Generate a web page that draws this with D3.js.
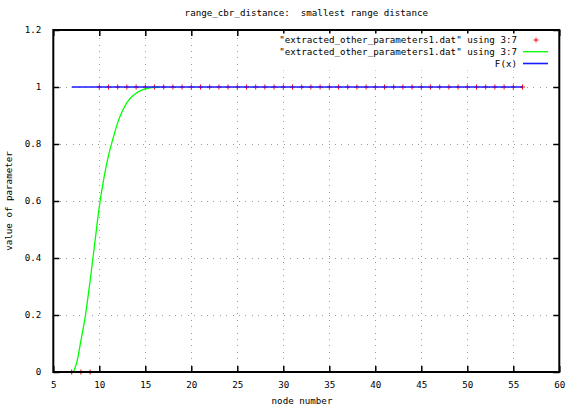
<!DOCTYPE html>
<html>
<head>
<meta charset="utf-8">
<script src="https://cdn.jsdelivr.net/npm/d3@7"></script>
<style>
  html, body { margin: 0; padding: 0; background: #fff; }
  svg { display: block; }
  text { font-family: "DejaVu Sans Mono", "Liberation Mono", monospace; font-size: 9.2px; fill: #000; white-space: pre; }
</style>
</head>
<body>
<svg id="chart" width="566" height="408"></svg>
<script>
// Node numbers and the measured parameter value for each (data file, columns 3:7)
const nodeNumbers = [7, 8, 9, 10, 11, 12, 13, 14, 15, 16, 17, 18, 19, 20, 21, 22, 23, 24, 25, 26,
  27, 28, 29, 30, 31, 32, 33, 34, 35, 36, 37, 38, 39, 40, 41, 42, 43, 44, 45, 46,
  47, 48, 49, 50, 51, 52, 53, 54, 55, 56];
const paramValues = [0, 0, 0, 1, 1, 1, 1, 1, 1, 1, 1, 1, 1, 1, 1, 1, 1, 1, 1, 1,
  1, 1, 1, 1, 1, 1, 1, 1, 1, 1, 1, 1, 1, 1, 1, 1, 1, 1, 1, 1,
  1, 1, 1, 1, 1, 1, 1, 1, 1, 1];

// Smoothed curve through the same data
const smoothX = [7.2, 7.6, 8.0, 8.5, 9.0, 9.5, 10.0, 10.5, 11.0, 11.5, 12.0, 12.5, 13.0, 13.5, 14.0, 14.5, 15.0, 15.5, 16.0, 16.6];
const smoothY = [0, 0.04, 0.11, 0.2, 0.32, 0.45, 0.58, 0.68, 0.76, 0.82, 0.875, 0.915, 0.945, 0.965, 0.978, 0.987, 0.993, 0.997, 0.999, 1.0];

// F(x) reference line
const fxX = [7, 56];
const fxY = [1, 1];

// Axis ticks
const xTicks = [5, 10, 15, 20, 25, 30, 35, 40, 45, 50, 55, 60];
const yTicks = [0, 0.2, 0.4, 0.6, 0.8, 1, 1.2];

const titleText = "range_cbr_distance:  smallest range distance";
const xLabel = "node number";
const yLabel = "value of parameter";
const legendLabels = ["\"extracted_other_parameters1.dat\" using 3:7",
                      "\"extracted_other_parameters1.dat\" using 3:7",
                      "F(x)"];

const svg = d3.select("#chart");
const plotLeft = 53.3, plotRight = 559.3, plotTop = 30, plotBottom = 372;

const x = d3.scaleLinear().domain([5, 60]).range([plotLeft, plotRight]);
const y = d3.scaleLinear().domain([0, 1.2]).range([plotBottom, plotTop]);

// Grid (dotted)
const grid = svg.append("g").attr("stroke", "#9a9a9a").attr("stroke-width", 1)
  .attr("stroke-dasharray", "1,5.4").attr("shape-rendering", "crispEdges");
grid.selectAll("line.v").data(xTicks.slice(1, -1)).join("line")
  .attr("class", "v")
  .attr("x1", d => Math.round(x(d)) + 0.5).attr("x2", d => Math.round(x(d)) + 0.5)
  .attr("y1", plotBottom).attr("y2", plotTop);
grid.selectAll("line.h").data(yTicks.slice(1, -1)).join("line")
  .attr("class", "h")
  .attr("x1", plotLeft).attr("x2", plotRight)
  .attr("y1", d => Math.round(y(d)) + 0.5).attr("y2", d => Math.round(y(d)) + 0.5);

// Axes with inward ticks, mirrored on the opposite sides
const tickLen = 6;
const axB = d3.axisBottom(x).tickValues(xTicks).tickSizeInner(-tickLen).tickSizeOuter(0).tickPadding(9);
const axL = d3.axisLeft(y).tickValues(yTicks).tickSizeInner(-tickLen).tickSizeOuter(0).tickPadding(12)
  .tickFormat(d => d === 0 ? "0" : d3.format("~g")(d));
const axT = d3.axisTop(x).tickValues(xTicks).tickSizeInner(-tickLen).tickSizeOuter(0).tickFormat("");
const axR = d3.axisRight(y).tickValues(yTicks).tickSizeInner(-tickLen).tickSizeOuter(0).tickFormat("");

function styleAxis(g) {
  g.select(".domain").remove();
  g.selectAll(".tick line").attr("stroke", "#000").attr("stroke-width", 1.5);
  g.selectAll(".tick text").attr("fill", "#000");
  g.attr("font-family", null).attr("font-size", null);
}
svg.append("g").attr("transform", `translate(0,${plotBottom})`).call(axB).call(styleAxis);
svg.append("g").attr("transform", `translate(${plotLeft},0)`).call(axL).call(styleAxis);
svg.append("g").attr("transform", `translate(0,${plotTop})`).call(axT).call(styleAxis);
svg.append("g").attr("transform", `translate(${plotRight},0)`).call(axR).call(styleAxis);

// Data points as small "+" marks
const plusR = 2.5;
const pts = svg.append("g").attr("stroke", "#ff0000").attr("stroke-width", 1);
pts.selectAll("path").data(nodeNumbers.map((n, i) => [n, paramValues[i]])).join("path")
  .attr("d", d => {
    const cx = x(d[0]), cy = y(d[1]);
    return `M${cx - plusR},${cy}H${cx + plusR}M${cx},${cy - plusR}V${cy + plusR}`;
  });

// Smoothed curve
const lineGen = d3.line().x(d => x(d[0])).y(d => y(d[1])).curve(d3.curveMonotoneX);
svg.append("path").datum(smoothX.map((v, i) => [v, smoothY[i]]))
  .attr("d", lineGen).attr("fill", "none").attr("stroke", "#00ff00").attr("stroke-width", 1.3);

// F(x)
svg.append("path").datum(fxX.map((v, i) => [v, fxY[i]]))
  .attr("d", d3.line().x(d => x(d[0])).y(d => y(d[1])))
  .attr("fill", "none").attr("stroke", "#1a1aff").attr("stroke-width", 1.6);

// Legend (opaque box)
svg.append("rect").attr("x", 275).attr("y", 33.5).attr("width", 282).attr("height", 37).attr("fill", "#fff");
const legY = [40, 51.7, 63.5];
const textRight = 517, sampleL = 523, sampleR = 548;
legendLabels.forEach((lbl, i) => {
  svg.append("text").attr("x", textRight).attr("y", legY[i]).attr("dy", "0.35em")
    .attr("text-anchor", "end").text(lbl);
});
{
  const cx = (sampleL + sampleR) / 2 + 0.5, cy = legY[0];
  svg.append("path").attr("d", `M${cx - plusR},${cy}H${cx + plusR}M${cx},${cy - plusR}V${cy + plusR}`)
    .attr("stroke", "#ff0000").attr("stroke-width", 1);
}
svg.append("line").attr("x1", sampleL).attr("x2", sampleR).attr("y1", legY[1]).attr("y2", legY[1])
  .attr("stroke", "#00ff00").attr("stroke-width", 1.3);
svg.append("line").attr("x1", sampleL).attr("x2", sampleR).attr("y1", legY[2]).attr("y2", legY[2])
  .attr("stroke", "#1a1aff").attr("stroke-width", 1.6);

// Border
svg.append("rect").attr("x", plotLeft).attr("y", plotTop)
  .attr("width", plotRight - plotLeft).attr("height", plotBottom - plotTop)
  .attr("fill", "none").attr("stroke", "#000").attr("stroke-width", 2);

// Titles
svg.append("text").attr("x", (plotLeft + plotRight) / 2).attr("y", 16).attr("text-anchor", "middle").text(titleText);
svg.append("text").attr("x", 302).attr("y", 404).attr("text-anchor", "middle").text(xLabel);
svg.append("text").attr("transform", `translate(12,${(plotTop + plotBottom) / 2}) rotate(-90)`)
  .attr("text-anchor", "middle").text(yLabel);
</script>
</body>
</html>
